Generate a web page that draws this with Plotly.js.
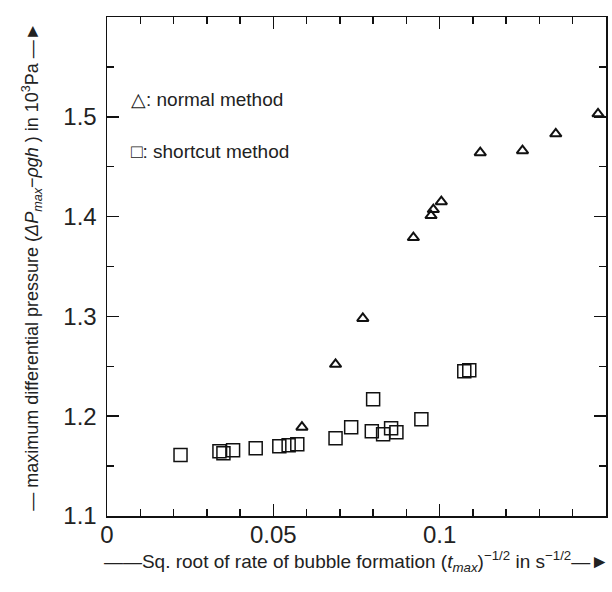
<!DOCTYPE html>
<html>
<head>
<meta charset="utf-8">
<script src="https://cdn.plot.ly/plotly-3.0.1.min.js"></script>
<style>html,body{margin:0;padding:0;background:#fff;}#chart{width:612px;height:592px;}</style>
</head>
<body>
<div id="chart"></div>
<script>
// normal method (triangles)
const normalX = [0.0586, 0.0687, 0.0769, 0.0921, 0.0974, 0.0981, 0.1005, 0.1122, 0.1249, 0.1349, 0.1476];
const normalY = [1.189, 1.252, 1.298, 1.379, 1.401, 1.407, 1.415, 1.464, 1.466, 1.483, 1.503];
// shortcut method (squares)
const shortX = [0.0221, 0.0338, 0.0350, 0.0379, 0.0447, 0.0518, 0.0546, 0.0572, 0.0687, 0.0734, 0.0796, 0.0800, 0.0830, 0.0854, 0.0870, 0.0945, 0.1074, 0.1089];
const shortY = [1.161, 1.165, 1.163, 1.166, 1.168, 1.170, 1.171, 1.172, 1.178, 1.189, 1.185, 1.217, 1.182, 1.188, 1.184, 1.197, 1.245, 1.246];
const xTickVals = [0, 0.05, 0.1];
const xTickText = ['0', '0.05', '0.1'];
const yTickVals = [1.1, 1.2, 1.3, 1.4, 1.5];
const yTickText = ['1.1', '1.2', '1.3', '1.4', '1.5'];

const tickFont = {family: '"Liberation Sans Narrow", "Liberation Sans", Arial, sans-serif', size: 24, color: '#222'};
const xTitleFont = {family: '"Liberation Sans", Arial, sans-serif', size: 19, color: '#222'};
const yTitleFont = {family: '"Liberation Sans", Arial, sans-serif', size: 18, color: '#222'};
const legFont = {family: '"Liberation Sans", Arial, sans-serif', size: 19, color: '#222'};

const traces = [
  {x: normalX, y: normalY, mode: 'markers', type: 'scatter', name: 'normal method',
   marker: {symbol: 'triangle-up-open', size: 10, color: '#111', line: {width: 2, color: '#111'}}},
  {x: shortX, y: shortY, mode: 'markers', type: 'scatter', name: 'shortcut method',
   marker: {symbol: 'square-open', size: 13, color: '#111', line: {width: 1.5, color: '#111'}}}
];

const layout = {
  width: 612, height: 592,
  margin: {l: 107, r: 6, t: 17, b: 76},
  paper_bgcolor: '#fff', plot_bgcolor: '#fff',
  showlegend: false,
  xaxis: {
    range: [0, 0.15], tickmode: 'array', tickvals: xTickVals, ticktext: xTickText,
    ticks: 'inside', ticklen: 12, tickwidth: 1.5, tickcolor: '#111',
    minor: {dtick: 0.01, ticks: 'inside', ticklen: 7, tickwidth: 1.5, tickcolor: '#111'},
    showline: true, linecolor: '#111', linewidth: 1.5, mirror: 'ticks',
    showgrid: false, zeroline: false, tickfont: tickFont, ticklabelstandoff: -3,
    title: {text: '——Sq. root of rate of bubble formation (<i>t</i><sub><i>max</i></sub>)<sup>−1/2</sup> in s<sup>−1/2</sup>—►', font: xTitleFont, standoff: 4}
  },
  yaxis: {
    range: [1.1, 1.6], tickmode: 'array', tickvals: yTickVals, ticktext: yTickText,
    ticks: 'inside', ticklen: 12, tickwidth: 1.5, tickcolor: '#111',
    minor: {dtick: 0.05, ticks: 'inside', ticklen: 7, tickwidth: 1.5, tickcolor: '#111'},
    showline: true, linecolor: '#111', linewidth: 1.5, mirror: 'ticks',
    showgrid: false, zeroline: false, tickfont: tickFont, ticklabelstandoff: 4,
    title: {text: '— maximum differential pressure (<i>ΔP</i><sub><i>max</i></sub>−<i>ρgh</i> ) in 10<sup>3</sup>Pa —►', font: yTitleFont, standoff: 20}
  },
  annotations: [
    {xref: 'paper', yref: 'paper', x: 0.045, y: 0.835, xanchor: 'left', yanchor: 'middle', showarrow: false,
     text: '△: normal method', font: legFont},
    {xref: 'paper', yref: 'paper', x: 0.045, y: 0.731, xanchor: 'left', yanchor: 'middle', showarrow: false,
     text: '□: shortcut method', font: legFont}
  ]
};

Plotly.newPlot('chart', traces, layout, {displayModeBar: false, staticPlot: true});
</script>
</body>
</html>
